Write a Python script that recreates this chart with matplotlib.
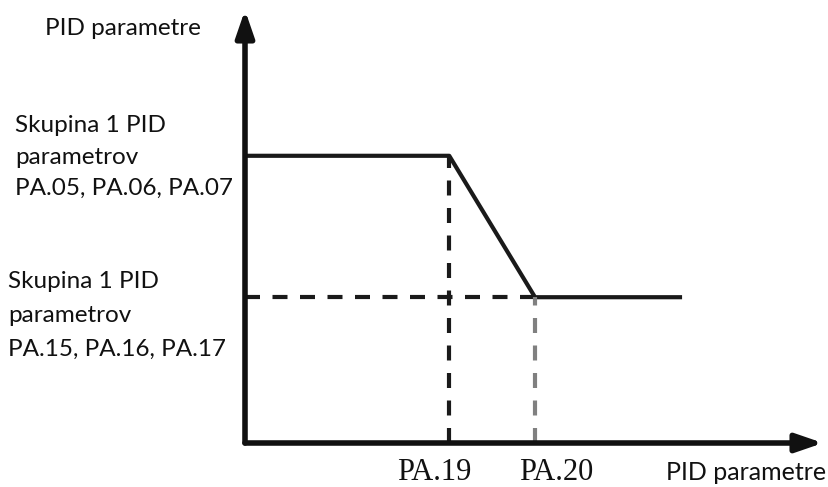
import matplotlib.pyplot as plt
from matplotlib.transforms import blended_transform_factory

# breakpoints on the x axis and the two parameter levels
x_points = [0.0, 1.0, 1.42, 2.14]
y_levels = [1.97, 1.97, 1.0, 1.0]
x_ticks = [1.0, 1.42]
x_tick_labels = ['PA.19', 'PA.20']
# the scanned labels sit a bit off their dashed lines
x_tick_label_pos = [0.925, 1.525]
x_max = 2.83
y_max = 2.97

upper_label = ['Skupina 1 PID', 'parametrov', 'PA.05, PA.06, PA.07']
lower_label = ['Skupina 1 PID', 'parametrov', 'PA.15, PA.16, PA.17']
axis_label = 'PID parametre'

W, H = 829, 487
label_font = 'Lato'
fs = 17.5
ink = '#111111'

fig = plt.figure(figsize=(W / 100, H / 100), dpi=100)
ax = fig.add_axes([245 / W, 44 / H, 578 / W, 433 / H])
ax.set_xlim(0, x_max)
ax.set_ylim(0, y_max)
ax.axis('off')

# main curve
ax.plot(x_points, y_levels, color='#1a1a1a', lw=3, solid_capstyle='butt', clip_on=False)

# dashed helper lines
dash = dict(lw=3, dashes=(3.6, 3.0), clip_on=False)
ax.plot([x_ticks[0], x_ticks[0]], [0, y_levels[1]], color='#1a1a1a', **dash)
ax.plot([0, x_ticks[1]], [y_levels[2], y_levels[2]], color='#1a1a1a', **dash)
ax.plot([x_ticks[1], x_ticks[1]], [0, y_levels[2]], color='#808080', **dash)

# axes with arrows
arrow = dict(arrowstyle='-|>,head_length=1.6,head_width=0.55', color=ink, lw=4,
             shrinkA=0, shrinkB=0, mutation_scale=10)
ax.annotate('', xy=(x_max, 0), xytext=(0, 0), arrowprops=arrow, annotation_clip=False)
ax.annotate('', xy=(0, y_max), xytext=(0, 0), arrowprops=arrow, annotation_clip=False)


def fy(px):
    return 1 - px / H


# tick labels (serif, as in the original)
xt_trans = blended_transform_factory(ax.transData, fig.transFigure)
for xt, lab in zip(x_tick_label_pos, x_tick_labels):
    ax.text(xt, fy(480), lab, ha='center', va='baseline', fontsize=22,
            family='Liberation Serif', color=ink, transform=xt_trans, clip_on=False)

fig.text(826 / W, fy(480), axis_label, ha='right', va='baseline', fontsize=18,
         family=label_font, color=ink)
fig.text(45 / W, fy(35), axis_label, ha='left', va='baseline', fontsize=fs,
         family=label_font, color=ink)

for line, base in zip(upper_label, [132, 164, 195]):
    fig.text(15 / W, fy(base), line, ha='left', va='baseline', fontsize=fs,
             family=label_font, color=ink)
for line, base in zip(lower_label, [288, 322, 356]):
    fig.text(8 / W, fy(base), line, ha='left', va='baseline', fontsize=fs,
             family=label_font, color=ink)

fig.savefig('out.png', dpi=100, facecolor='white')
